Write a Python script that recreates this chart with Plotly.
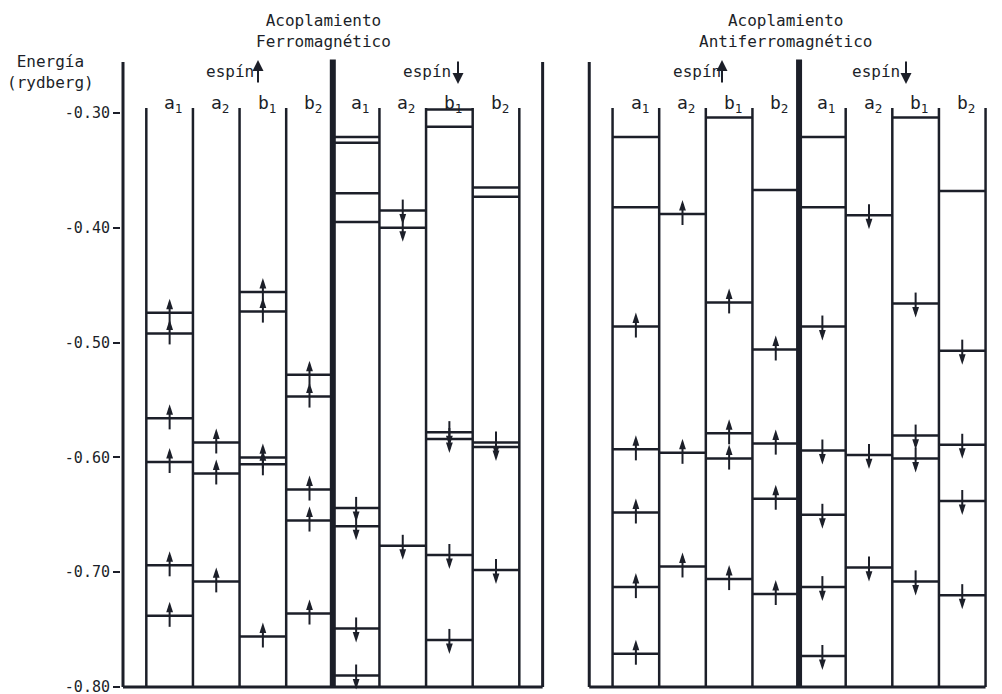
import plotly.graph_objects as go

# ---------------- data (energies in rydberg) ----------------
tick_vals = [-0.30, -0.40, -0.50, -0.60, -0.70, -0.80]
tick_text = ["-0.30", "-0.40", "-0.50", "-0.60", "-0.70", "-0.80"]

sym_labels = ["a<sub>1</sub>", "a<sub>2</sub>", "b<sub>1</sub>", "b<sub>2</sub>"]
panel_titles = ["Acoplamiento<br>Ferromagnético", "Acoplamiento<br>Antiferromagnético"]
spin_word = "espín"
y_title = "Energía<br>(rydberg)"

# Ferromagnetic coupling, spin up  (occ: 1 = occupied level, drawn with an arrow)
F_UP_A1 = [-0.474, -0.492, -0.566, -0.604, -0.694, -0.738]
F_UP_A1_OCC = [1, 1, 1, 1, 1, 1]
F_UP_A2 = [-0.587, -0.614, -0.708]
F_UP_A2_OCC = [1, 1, 1]
F_UP_B1 = [-0.456, -0.473, -0.600, -0.606, -0.756]
F_UP_B1_OCC = [1, 1, 1, 1, 1]
F_UP_B2 = [-0.528, -0.547, -0.628, -0.655, -0.736]
F_UP_B2_OCC = [1, 1, 1, 1, 1]

# Ferromagnetic coupling, spin down
F_DN_A1 = [-0.321, -0.326, -0.370, -0.395, -0.644, -0.660, -0.749, -0.790]
F_DN_A1_OCC = [0, 0, 0, 0, 1, 1, 1, 1]
F_DN_A2 = [-0.385, -0.400, -0.677]
F_DN_A2_OCC = [1, 1, 1]
F_DN_B1 = [-0.297, -0.312, -0.578, -0.584, -0.685, -0.759]
F_DN_B1_OCC = [0, 0, 1, 1, 1, 1]
F_DN_B2 = [-0.365, -0.373, -0.587, -0.591, -0.698]
F_DN_B2_OCC = [0, 0, 1, 1, 1]

# Antiferromagnetic coupling, spin up
A_UP_A1 = [-0.321, -0.382, -0.486, -0.593, -0.648, -0.713, -0.771]
A_UP_A1_OCC = [0, 0, 1, 1, 1, 1, 1]
A_UP_A2 = [-0.388, -0.596, -0.695]
A_UP_A2_OCC = [1, 1, 1]
A_UP_B1 = [-0.304, -0.465, -0.579, -0.601, -0.706]
A_UP_B1_OCC = [0, 1, 1, 1, 1]
A_UP_B2 = [-0.367, -0.506, -0.588, -0.636, -0.719]
A_UP_B2_OCC = [0, 1, 1, 1, 1]

# Antiferromagnetic coupling, spin down
A_DN_A1 = [-0.321, -0.382, -0.486, -0.594, -0.650, -0.713, -0.773]
A_DN_A1_OCC = [0, 0, 1, 1, 1, 1, 1]
A_DN_A2 = [-0.389, -0.598, -0.696]
A_DN_A2_OCC = [1, 1, 1]
A_DN_B1 = [-0.304, -0.466, -0.581, -0.601, -0.708]
A_DN_B1_OCC = [0, 1, 1, 1, 1]
A_DN_B2 = [-0.368, -0.507, -0.589, -0.638, -0.720]
A_DN_B2_OCC = [0, 1, 1, 1, 1]

# ---------------- layout constants ----------------
OFF = 8                   # page body margin of the browser
W, H = 1002 - OFF, 694 - OFF
PX_COL = 46.625           # pixels per column
PX_E = 1148.0             # pixels per rydberg
ML, MR, MT, MB = 121 - OFF, 0, 55 - OFF, 2
PW, PH = W - ML - MR, H - MT - MB
x0 = -0.5 - 2 / PX_COL
x1 = x0 + PW / PX_COL
y_top = -0.30 + (113 - 55) / PX_E
y_bot = y_top - PH / PX_E

INK = "#1c1f29"
FONT = "DejaVu Sans Mono"
E_MIN = -0.80
COL_TOP = -0.2956
FRAME_TOP = -0.2556
THICK_TOP = -0.2535
HEAD = 14 / PX_E
TAIL = 11 / PX_E
GAP = 4 / PX_E


def px_x(px):
    """reference-image pixel x -> paper coordinate"""
    return (px - OFF - ML) / PW


def px_y(py):
    """reference-image pixel y -> paper coordinate"""
    return (H - MB - (py - OFF)) / PH


panels = [
    (0, [[F_UP_A1, F_UP_A2, F_UP_B1, F_UP_B2], [F_DN_A1, F_DN_A2, F_DN_B1, F_DN_B2]],
        [[F_UP_A1_OCC, F_UP_A2_OCC, F_UP_B1_OCC, F_UP_B2_OCC],
         [F_DN_A1_OCC, F_DN_A2_OCC, F_DN_B1_OCC, F_DN_B2_OCC]], True),
    (10, [[A_UP_A1, A_UP_A2, A_UP_B1, A_UP_B2], [A_DN_A1, A_DN_A2, A_DN_B1, A_DN_B2]],
        [[A_UP_A1_OCC, A_UP_A2_OCC, A_UP_B1_OCC, A_UP_B2_OCC],
         [A_DN_A1_OCC, A_DN_A2_OCC, A_DN_B1_OCC, A_DN_B2_OCC]], False),
]

col_x, col_y = [], []
frame_x, frame_y = [], []
thick_x, thick_y = [], []
lev_x, lev_y = [], []
shaft_x, shaft_y = [], []
head_x, head_y, head_ang = [], [], []
annotations = []
txt_font = dict(family=FONT, size=16, color=INK)

for off, levels, occs, right_frame in panels:
    frame_x += [off - 0.5, off - 0.5, None]
    frame_y += [FRAME_TOP, E_MIN, None]
    if right_frame:
        frame_x += [off + 8.5, off + 8.5, None]
        frame_y += [FRAME_TOP, E_MIN, None]
        frame_x += [off - 0.5, off + 8.5, None]
    else:
        frame_x += [off - 0.5, off + 8, None]
    frame_y += [E_MIN, E_MIN, None]
    for k in range(9):
        if k == 4:
            thick_x += [off + 4, off + 4, None]
            thick_y += [THICK_TOP, E_MIN, None]
        else:
            col_x += [off + k, off + k, None]
            col_y += [COL_TOP, E_MIN, None]
    for s in range(2):
        for j in range(4):
            c = off + 4 * s + j
            xc = c + 0.5
            for e, o in zip(levels[s][j], occs[s][j]):
                lev_x += [c, c + 1, None]
                lev_y += [e, e, None]
                if o:
                    shaft_x += [xc, xc, None]
                    if s == 0:
                        shaft_y += [e - TAIL, e + HEAD - GAP, None]
                        head_x.append(xc); head_y.append(e + HEAD); head_ang.append(0)
                    else:
                        shaft_y += [e + TAIL, e - HEAD + GAP, None]
                        head_x.append(xc); head_y.append(e - HEAD); head_ang.append(180)
            annotations.append(dict(x=xc + 0.08, y=-0.2925, xref="x", yref="y",
                                    xanchor="center", yanchor="middle",
                                    text=sym_labels[j], showarrow=False,
                                    font=dict(family=FONT, size=18, color=INK)))

fig = go.Figure()
fig.add_trace(go.Scatter(x=col_x, y=col_y, mode="lines", line=dict(color=INK, width=2.5),
                         hoverinfo="skip", showlegend=False))
fig.add_trace(go.Scatter(x=frame_x, y=frame_y, mode="lines", line=dict(color=INK, width=3),
                         hoverinfo="skip", showlegend=False))
fig.add_trace(go.Scatter(x=thick_x, y=thick_y, mode="lines", line=dict(color=INK, width=6),
                         hoverinfo="skip", showlegend=False))
fig.add_trace(go.Scatter(x=lev_x, y=lev_y, mode="lines", line=dict(color=INK, width=2.5),
                         hoverinfo="skip", showlegend=False))
fig.add_trace(go.Scatter(x=shaft_x, y=shaft_y, mode="lines", line=dict(color=INK, width=2),
                         hoverinfo="skip", showlegend=False))
fig.add_trace(go.Scatter(x=head_x, y=head_y, mode="markers",
                         marker=dict(symbol="arrow", size=11, angle=head_ang, color=INK,
                                     line=dict(width=0)),
                         hoverinfo="skip", showlegend=False))

annotations += [
    dict(x=px_x(323), y=px_y(31), text=panel_titles[0]),
    dict(x=px_x(785), y=px_y(31), text=panel_titles[1]),
    dict(x=px_x(50), y=px_y(72), text=y_title),
]
# "espín" words with a drawn spin arrow beside them
spin_pos = [(230, 258, "up"), (427, 458, "down"), (697, 722, "up"), (876, 906, "down")]
for tx, ax_px, d in spin_pos:
    annotations.append(dict(x=px_x(tx), y=px_y(72), text=spin_word))
    if d == "up":
        annotations.append(dict(x=px_x(ax_px), y=px_y(60), ax=0, ay=24, text="",
                                showarrow=True, arrowhead=2, arrowsize=1.1, arrowwidth=2,
                                arrowcolor=INK, xref="paper", yref="paper"))
    else:
        annotations.append(dict(x=px_x(ax_px), y=px_y(84), ax=0, ay=-24, text="",
                                showarrow=True, arrowhead=2, arrowsize=1.1, arrowwidth=2,
                                arrowcolor=INK, xref="paper", yref="paper"))
for a in annotations:
    if a.get("xref") is None:
        a.update(xref="paper", yref="paper", xanchor="center", yanchor="middle",
                 showarrow=False, font=txt_font)

fig.update_layout(
    width=W, height=H,
    margin=dict(l=ML, r=MR, t=MT, b=MB, autoexpand=False),
    paper_bgcolor="white", plot_bgcolor="white",
    xaxis=dict(range=[x0, x1], visible=False),
    yaxis=dict(range=[y_bot, y_top], tickvals=tick_vals, ticktext=tick_text,
               showgrid=False, zeroline=False, showline=False,
               ticks="outside", ticklen=7, tickwidth=2, tickcolor=INK,
               ticklabeloverflow="allow",
               tickfont=dict(family=FONT, size=15, color=INK)),
    annotations=annotations,
)

fig.write_html("out.html")
